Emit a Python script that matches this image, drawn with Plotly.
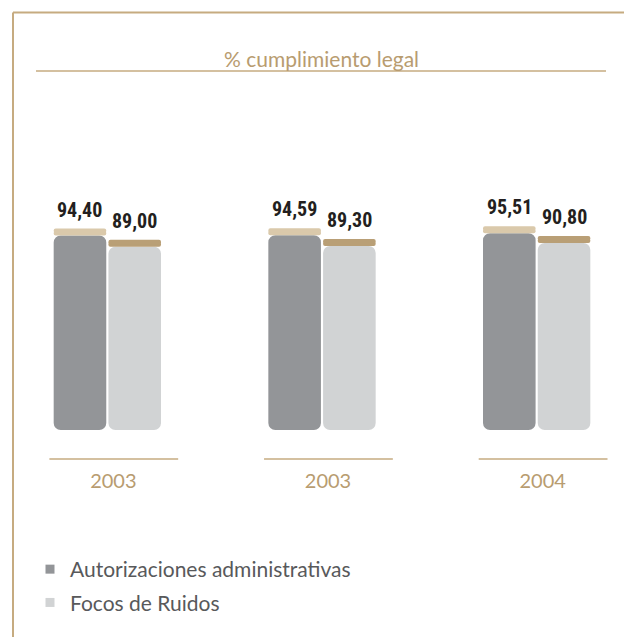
import plotly.graph_objects as go

# ---- data ----
years = ["2003", "2003", "2004"]
autorizaciones = [94.40, 94.59, 95.51]
focos_ruidos = [89.00, 89.30, 90.80]
series_names = ["Autorizaciones administrativas", "Focos de Ruidos"]
title_text = "% cumplimiento legal"

# ---- styling ----
W, H = 632, 637
OFF = 8  # page body margin
TAN = "#c6ab80"
TITLE_TAN = "#b89c70"
DARK = "#939598"
LIGHT = "#d1d3d4"
DARK_CAP = "#dac9ab"
LIGHT_CAP = "#b99f76"
BAR_W = 0.245
CAP = 3.4  # cap thickness in data units
LABEL_FONT = "Roboto Condensed, DejaVu Sans Condensed, sans-serif"

def px(x):
    return (x - OFF) / W

def py(y):
    return 1 - (y - OFF) / H

def fmt(v):
    return f"{v:.2f}".replace(".", ",")

xpos = list(range(len(years)))

fig = go.Figure()

series = [
    (autorizaciones, DARK, DARK_CAP, -0.25, series_names[0]),
    (focos_ruidos, LIGHT, LIGHT_CAP, 0.005, series_names[1]),
]

annotations = []
for vals, col, capcol, off, name in series:
    # main bar, drawn downward from value to zero so bottom corners are rounded
    fig.add_trace(go.Bar(
        x=xpos, y=[-v for v in vals], base=vals,
        width=BAR_W, offset=off,
        marker=dict(color=col, line=dict(width=0), cornerradius=7),
        name=name, showlegend=False, hoverinfo="skip",
    ))
    # cap: lower part (rounded bottom)
    fig.add_trace(go.Bar(
        x=xpos, y=[-CAP * 0.65 for v in vals], base=[v + CAP * 0.65 for v in vals],
        width=BAR_W, offset=off,
        marker=dict(color=capcol, line=dict(width=0), cornerradius=3),
        showlegend=False, hoverinfo="skip",
    ))
    # cap: upper part (rounded top)
    fig.add_trace(go.Bar(
        x=xpos, y=[CAP * 0.65 for v in vals], base=[v + CAP * 0.35 for v in vals],
        width=BAR_W, offset=off,
        marker=dict(color=capcol, line=dict(width=0), cornerradius=3),
        showlegend=False, hoverinfo="skip",
    ))
    # legend entry with a small square swatch
    fig.add_trace(go.Scatter(
        x=[None], y=[None], mode="markers", name=name, legendgroup=name,
        marker=dict(symbol="square", size=9, color=col),
        showlegend=True, hoverinfo="skip",
    ))
    for i, v in zip(xpos, vals):
        annotations.append(dict(
            text=fmt(v), xref="x", yref="y", x=i + off + BAR_W / 2, y=v + CAP,
            xanchor="center", yanchor="bottom", yshift=5, showarrow=False,
            font=dict(family=LABEL_FONT, size=20, color="#231f20", weight="bold"),
        ))

shapes = [
    # frame
    dict(type="line", xref="paper", yref="paper", x0=px(13), x1=1.0, y0=py(12.5), y1=py(12.5),
         line=dict(color=TAN, width=2)),
    dict(type="line", xref="paper", yref="paper", x0=px(13), x1=px(13), y0=py(12.5), y1=0,
         line=dict(color=TAN, width=2)),
    # title underline
    dict(type="line", xref="paper", yref="paper", x0=px(36), x1=px(606), y0=py(71), y1=py(71),
         line=dict(color=TAN, width=1.5)),
]
for i in xpos:
    shapes.append(dict(type="line", xref="x", yref="paper", x0=i - 0.27, x1=i + 0.33,
                       y0=py(459), y1=py(459), line=dict(color=TAN, width=1.5)))

annotations.append(dict(text=title_text, xref="paper", yref="paper", x=px(321), y=py(59),
                        showarrow=False, xanchor="center", yanchor="middle",
                        font=dict(family="Lato, sans-serif", size=21, color=TITLE_TAN)))

fig.update_layout(
    width=W, height=H,
    margin=dict(l=0, r=0, t=0, b=0),
    paper_bgcolor="white", plot_bgcolor="white",
    barmode="overlay",
    shapes=shapes,
    annotations=annotations,
    xaxis=dict(domain=[0, 1], range=[-0.4628, 2.4814], tickvals=xpos, ticktext=years,
               showgrid=False, zeroline=False, showline=False, ticks="",
               ticklabelstandoff=37, ticklabelshift=6,
               tickfont=dict(family="Lato, sans-serif", size=20, color=TITLE_TAN)),
    yaxis=dict(domain=[py(430), py(224)], range=[0, 100], visible=False, fixedrange=True),
    legend=dict(x=px(30), y=py(549), xanchor="left", yanchor="top",
                font=dict(family="Lato, sans-serif", size=21, color="#58595b"),
                traceorder="grouped", tracegroupgap=3, bgcolor="rgba(0,0,0,0)"),
    showlegend=True,
)

fig.write_html("out.html")
